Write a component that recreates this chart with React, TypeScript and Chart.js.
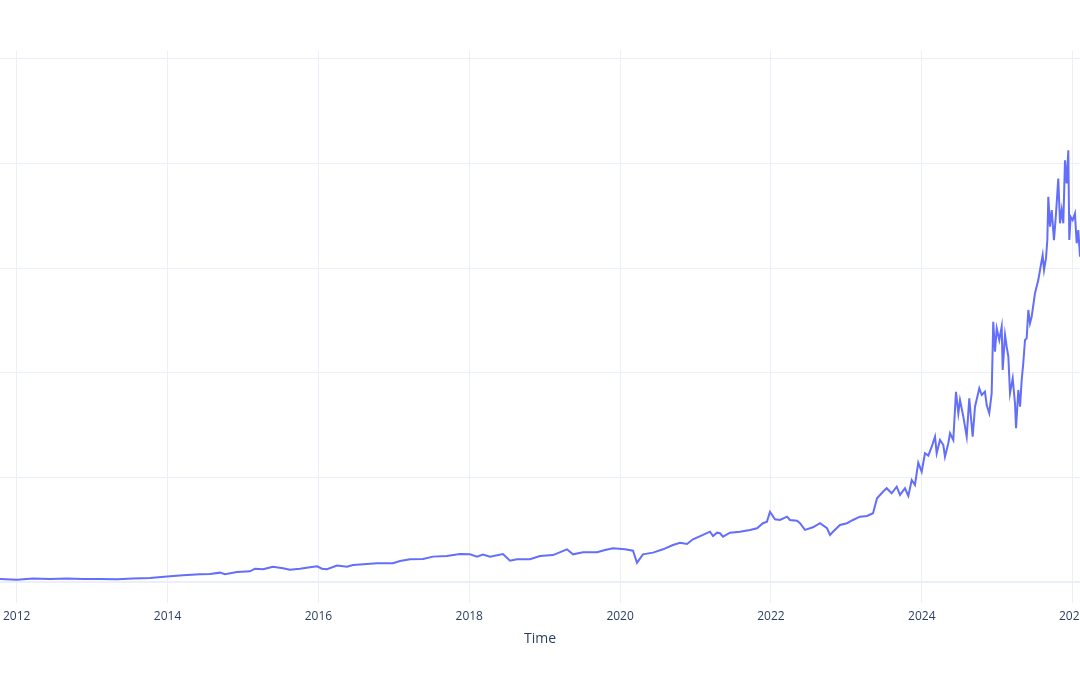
import React, { useEffect, useRef } from "react";
import { Chart, registerables } from "chart.js";

Chart.register(...registerables);

// Time as decimal years, price values
const dates: number[] = [
  2011.779, 2012.004, 2012.217, 2012.442, 2012.667, 2012.879, 2013.105, 2013.330, 2013.542, 2013.768,
  2013.993, 2014.205, 2014.430, 2014.563, 2014.696, 2014.762, 2014.921, 2015.093, 2015.160, 2015.266,
  2015.398, 2015.531, 2015.624, 2015.756, 2015.889, 2015.982, 2016.048, 2016.114, 2016.247, 2016.379,
  2016.459, 2016.552, 2016.777, 2016.989, 2017.082, 2017.215, 2017.387, 2017.519, 2017.705, 2017.877,
  2018.010, 2018.103, 2018.182, 2018.275, 2018.447, 2018.540, 2018.633, 2018.805, 2018.938, 2019.110,
  2019.296, 2019.376, 2019.508, 2019.694, 2019.800, 2019.906, 2020.065, 2020.171, 2020.224, 2020.303,
  2020.436, 2020.569, 2020.701, 2020.794, 2020.887, 2020.966, 2021.099, 2021.192, 2021.232, 2021.285,
  2021.324, 2021.364, 2021.457, 2021.589, 2021.722, 2021.815, 2021.894, 2021.947, 2021.987, 2022.053,
  2022.120, 2022.213, 2022.252, 2022.345, 2022.385, 2022.451, 2022.557, 2022.650, 2022.743, 2022.783,
  2022.822, 2022.915, 2023.008, 2023.087, 2023.180, 2023.273, 2023.353, 2023.406, 2023.485, 2023.534,
  2023.600, 2023.667, 2023.711, 2023.777, 2023.821, 2023.866, 2023.909, 2023.953, 2023.998, 2024.042,
  2024.086, 2024.131, 2024.175, 2024.197, 2024.241, 2024.285, 2024.307, 2024.351, 2024.374, 2024.417,
  2024.453, 2024.484, 2024.506, 2024.550, 2024.595, 2024.629, 2024.674, 2024.705, 2024.762, 2024.794,
  2024.837, 2024.860, 2024.894, 2024.926, 2024.947, 2024.970, 2024.993, 2025.027, 2025.059, 2025.072,
  2025.103, 2025.125, 2025.147, 2025.169, 2025.205, 2025.235, 2025.249, 2025.279, 2025.302, 2025.324,
  2025.345, 2025.368, 2025.390, 2025.412, 2025.434, 2025.456, 2025.500, 2025.544, 2025.567, 2025.602,
  2025.620, 2025.646, 2025.664, 2025.677, 2025.699, 2025.722, 2025.752, 2025.779, 2025.809, 2025.832,
  2025.854, 2025.876, 2025.898, 2025.920, 2025.942, 2025.955, 2025.973, 2026.000, 2026.030, 2026.053,
  2026.074, 2026.097,
];

const prices: number[] = [
  3.1, 2.5, 3.5, 3.1, 3.5, 3.1, 3.1, 2.8, 3.5, 4.1,
  5.4, 6.7, 7.6, 7.9, 9.2, 7.6, 9.8, 10.5, 13.0, 12.4,
  14.9, 13.4, 12.0, 13.0, 14.3, 15.3, 13.0, 12.4, 15.9, 14.9,
  16.5, 17.0, 18.1, 18.1, 20.3, 22.0, 22.3, 24.5, 25.1, 27.0,
  26.7, 24.5, 26.4, 24.5, 27.0, 20.6, 22.0, 22.0, 25.1, 26.0,
  31.5, 26.7, 28.7, 28.7, 30.8, 32.5, 31.5, 30.2, 18.7, 26.7,
  28.3, 31.5, 35.6, 37.8, 36.6, 41.1, 45.2, 48.3, 44.2, 47.4,
  46.8, 43.6, 47.4, 48.3, 50.0, 51.6, 56.4, 57.9, 67.4, 60.2,
  59.5, 62.7, 59.5, 58.8, 56.4, 50.0, 52.5, 56.4, 51.6, 45.2,
  48.3, 54.7, 56.4, 59.5, 62.7, 63.3, 65.9, 80.2, 86.5, 89.8,
  85.0, 91.3, 83.4, 89.8, 82.4, 97.7, 92.9, 114.2, 105.6, 123.2,
  121.0, 129.5, 139.1, 123.2, 135.9, 131.1, 120.0, 132.8, 142.3, 135.9,
  182.0, 161.4, 174.1, 158.2, 139.1, 175.7, 139.1, 167.7, 185.3, 178.9,
  182.0, 169.3, 161.4, 180.5, 248.9, 220.2, 242.6, 231.4, 244.1, 202.8,
  236.2, 225.0, 215.5, 180.5, 194.8, 171.0, 147.1, 183.7, 167.7, 193.2,
  209.2, 231.4, 233.0, 260.1, 247.4, 253.7, 276.0, 288.7, 298.3, 312.6,
  298.3, 309.4, 326.9, 368.3, 339.6, 355.5, 326.9, 352.3, 385.7, 342.9,
  355.5, 342.9, 403.1, 381.0, 412.6, 326.9, 349.1, 345.9, 352.3, 323.8,
  336.5, 311.0,
];

const xTickYears: number[] = [2012, 2014, 2016, 2018, 2020, 2022, 2024, 2026];
const yTickValues: number[] = [0, 100, 200, 300, 400, 500];
const xAxisTitle = "Time";

export default function App() {
  const canvasRef = useRef<HTMLCanvasElement | null>(null);

  useEffect(() => {
    document.body.style.margin = "0";
    const canvas = canvasRef.current;
    if (!canvas) return;
    const grid = "#EBF0F8";
    const chart = new Chart(canvas, {
      type: "line",
      data: {
        datasets: [
          {
            data: dates.map((d, i) => ({ x: d, y: prices[i] })),
            borderColor: "#636efa",
            backgroundColor: "#636efa",
            borderWidth: 2,
            pointRadius: 0,
            tension: 0,
            fill: false,
          },
        ],
      },
      options: {
        animation: false,
        responsive: false,
        maintainAspectRatio: false,
        layout: { padding: { top: 51, left: 0, right: 0, bottom: 0 } },
        plugins: { legend: { display: false }, tooltip: { enabled: false } },
        scales: {
          x: {
            type: "linear",
            min: 2011.779,
            max: 2026.097,
            border: { display: false },
            grid: { color: grid, lineWidth: 1, drawTicks: false },
            ticks: {
              autoSkip: false,
              maxRotation: 0,
              minRotation: 0,
              padding: 6,
              color: "#2a3f5f",
              font: { family: "'Open Sans', sans-serif", size: 12 },
              callback: (v: any) => String(v),
            },
            afterBuildTicks: (scale: any) => {
              scale.ticks = xTickYears.map((v) => ({ value: v }));
            },
            afterFit: (scale: any) => {
              scale.height = 72;
              scale.paddingLeft = 0;
              scale.paddingRight = 0;
            },
            title: {
              display: true,
              text: xAxisTitle,
              color: "#2a3f5f",
              font: { family: "'Open Sans', sans-serif", size: 14 },
              padding: { top: 0, bottom: 28 },
            },
          },
          y: {
            type: "linear",
            min: -19.8,
            max: 507.5,
            border: { display: false },
            grid: {
              color: grid,
              drawTicks: false,
              lineWidth: (ctx: any) => (ctx.tick && ctx.tick.value === 0 ? 2 : 1),
            },
            ticks: { display: false },
            afterBuildTicks: (scale: any) => {
              scale.ticks = yTickValues.map((v) => ({ value: v }));
            },
            afterFit: (scale: any) => {
              scale.width = 0;
              scale.paddingTop = 0;
              scale.paddingBottom = 0;
            },
          },
        },
      },
    });
    return () => chart.destroy();
  }, []);

  return (
    <div style={{ position: "fixed", left: 0, top: 0, width: 1080, height: 675, background: "#fff" }}>
      <canvas ref={canvasRef} width={1080} height={675} style={{ width: 1080, height: 675, display: "block" }} />
    </div>
  );
}
